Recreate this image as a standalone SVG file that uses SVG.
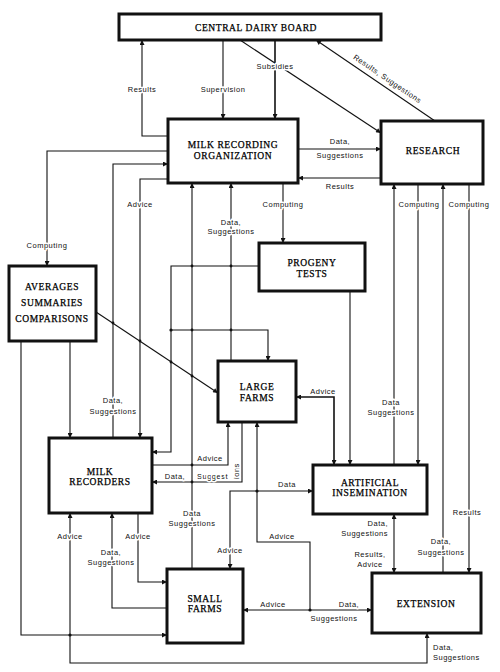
<svg xmlns="http://www.w3.org/2000/svg" xmlns:xlink="http://www.w3.org/1999/xlink" width="500" height="672" viewBox="0 0 500 672">
<style>
.box{fill:#fff;stroke:#111;stroke-width:3}
.bt{font-family:"Liberation Serif","DejaVu Serif",serif;font-size:9.5px;letter-spacing:0.6px;fill:#000;stroke:#000;stroke-width:0.25;text-anchor:middle}
.c{fill:none;stroke:#111;stroke-width:1.1}
.a{marker-end:url(#ar)}
.b{marker-start:url(#ar);marker-end:url(#ar)}
.l{font-family:"Liberation Sans","DejaVu Sans",sans-serif;font-size:7.5px;letter-spacing:0.5px;fill:#111;text-anchor:middle;stroke:#fff;stroke-width:3;stroke-linejoin:round;paint-order:stroke}
.s{text-anchor:start}
.e{text-anchor:end}
.d{fill:#111}
</style>
<defs>
<marker id="ar" viewBox="0 0 10 10" refX="10" refY="5" markerWidth="6" markerHeight="5" markerUnits="userSpaceOnUse" orient="auto-start-reverse"><path d="M0,0 L10,5 L0,10 z" fill="#111"/></marker>
<path id="sp" d="M197,479 H239 V420"/>
</defs>
<rect width="500" height="672" fill="#fff"/>

<g id="connectors">
<path class="c a" d="M223,40 V119"/>
<path class="c a" d="M168,136 H142 V40"/>
<path class="c a" d="M275,40 V119" style="stroke-width:1.6"/>
<path class="c a" d="M240,40 L381,133"/>
<path class="c a" d="M435,121 L316,40"/>
<path class="c a" d="M298,149 H381"/>
<path class="c a" d="M381,178 H298"/>
<path class="c a" d="M283,183 V243"/>
<path class="c a" d="M168,151 H47 V266"/>
<path class="c a" d="M113,438 V164 H168"/>
<path class="c a" d="M168,179 H140 V438"/>
<path class="c a" d="M70,341 V438"/>
<path class="c a" d="M96,312 L218,393"/>
<path class="c a" d="M21,341 V635 H167"/>
<path class="c b" d="M427,633 V663 H70 V513"/>
<path class="c a" d="M167,608 H112 V513"/>
<path class="c a" d="M138,513 V582 H167"/>
<path class="c a" d="M192,569 V183"/>
<path class="c a" d="M231,361 V183"/>
<path class="c a" d="M259,266 H171 V452 H152"/>
<path class="c a" d="M171,330 H268 V361"/>
<path class="c a" d="M152,465 H228 V422"/>
<path class="c a" d="M242,422 V482 H152"/>
<path class="c b" d="M334,465 V397 H296" style="stroke-width:1.6"/>
<path class="c a" d="M350,291 V465"/>
<path class="c a" d="M394,465 V184"/>
<path class="c a" d="M418,184 V465"/>
<path class="c a" d="M443,573 V184"/>
<path class="c a" d="M469,184 V573"/>
<path class="c b" d="M394,514 V573"/>
<path class="c b" d="M243,610 H372"/>
<path class="c a" d="M310,610 V542 H257 V422"/>
<path class="c b" d="M230,569 V491 H313"/>
<g class="d">
<circle cx="70" cy="635" r="1.6"/><circle cx="310" cy="610" r="1.6"/><circle cx="257" cy="491" r="1.6"/><circle cx="171" cy="330" r="1.6"/>
<circle cx="192" cy="266" r="1.4"/><circle cx="231" cy="266" r="1.4"/><circle cx="192" cy="330" r="1.4"/><circle cx="231" cy="330" r="1.4"/>
<circle cx="192" cy="465" r="1.4"/><circle cx="192" cy="482" r="1.4"/>
<circle cx="113" cy="323" r="1.4"/><circle cx="140" cy="341" r="1.4"/><circle cx="171" cy="362" r="1.4"/><circle cx="192" cy="376" r="1.4"/>
</g>
<text class="l" x="223" y="92">Supervision</text>
<text class="l" x="142" y="92">Results</text>
<text class="l" x="275" y="69">Subsidies</text>
<text class="l" x="386" y="81" transform="rotate(34.2 386 81)">Results, Suggestions</text>
<text class="l" x="340" y="144">Data,</text>
<text class="l" x="340" y="158">Suggestions</text>
<text class="l" x="340" y="189">Results</text>
<text class="l" x="283" y="207">Computing</text>
<text class="l" x="47" y="248">Computing</text>
<text class="l" x="140" y="207">Advice</text>
<text class="l" x="231" y="225">Data,</text>
<text class="l" x="231" y="234">Suggestions</text>
<text class="l" x="419" y="207">Computing</text>
<text class="l" x="469" y="207">Computing</text>
<text class="l" x="113" y="403">Data,</text>
<text class="l" x="113" y="414">Suggestions</text>
<text class="l" x="323" y="394">Advice</text>
<text class="l" x="391" y="405">Data</text>
<text class="l" x="391" y="415">Suggestions</text>
<text class="l" x="210" y="461">Advice</text>
<text class="l" x="175" y="479">Data,</text>
<text class="l s"><textPath xlink:href="#sp">Suggest<tspan dx="11">ions</tspan></textPath></text>
<text class="l" x="287" y="487">Data</text>
<text class="l" x="467" y="515">Results</text>
<text class="l" x="192" y="516">Data</text>
<text class="l" x="192" y="526">Suggestions</text>
<text class="l e" x="388" y="526">Data,</text>
<text class="l e" x="388" y="536">Suggestions</text>
<text class="l" x="370" y="557">Results,</text>
<text class="l" x="370" y="567">Advice</text>
<text class="l" x="441" y="544">Data,</text>
<text class="l" x="441" y="555">Suggestions</text>
<text class="l" x="70" y="539">Advice</text>
<text class="l" x="138" y="539">Advice</text>
<text class="l" x="111" y="555">Data,</text>
<text class="l" x="111" y="565">Suggestions</text>
<text class="l" x="282" y="539">Advice</text>
<text class="l" x="230" y="553">Advice</text>
<text class="l" x="273" y="607">Advice</text>
<text class="l" x="349" y="607">Data,</text>
<text class="l" x="334" y="621">Suggestions</text>
<text class="l s" x="433" y="650">Data,</text>
<text class="l s" x="433" y="660">Suggestions</text>
</g>

<g id="central-dairy-board"><rect class="box" x="119" y="14" width="262" height="26"/><text class="bt" x="256" y="31">CENTRAL DAIRY BOARD</text></g>
<g id="milk-recording-organization"><rect class="box" x="168" y="119" width="130" height="64"/><text class="bt" x="233" y="148">MILK RECORDING</text><text class="bt" x="233" y="159">ORGANIZATION</text></g>
<g id="research"><rect class="box" x="381" y="121" width="102" height="63"/><text class="bt" x="433" y="154">RESEARCH</text></g>
<g id="averages"><rect class="box" x="9" y="266" width="87" height="75"/><text class="bt" x="52" y="290">AVERAGES</text><text class="bt" x="52" y="306">SUMMARIES</text><text class="bt" x="52" y="322">COMPARISONS</text></g>
<g id="progeny-tests"><rect class="box" x="259" y="243" width="106" height="48"/><text class="bt" x="312" y="266">PROGENY</text><text class="bt" x="312" y="277">TESTS</text></g>
<g id="large-farms"><rect class="box" x="218" y="361" width="78" height="61"/><text class="bt" x="257" y="390">LARGE</text><text class="bt" x="257" y="401">FARMS</text></g>
<g id="milk-recorders"><rect class="box" x="49" y="438" width="103" height="75"/><text class="bt" x="100" y="475">MILK</text><text class="bt" x="100" y="485">RECORDERS</text></g>
<g id="artificial-insemination"><rect class="box" x="313" y="465" width="114" height="49"/><text class="bt" x="370" y="486">ARTIFICIAL</text><text class="bt" x="370" y="496">INSEMINATION</text></g>
<g id="small-farms"><rect class="box" x="167" y="569" width="76" height="74"/><text class="bt" x="205" y="602">SMALL</text><text class="bt" x="205" y="612">FARMS</text></g>
<g id="extension"><rect class="box" x="372" y="573" width="109" height="60"/><text class="bt" x="426" y="607">EXTENSION</text></g>
</svg>
